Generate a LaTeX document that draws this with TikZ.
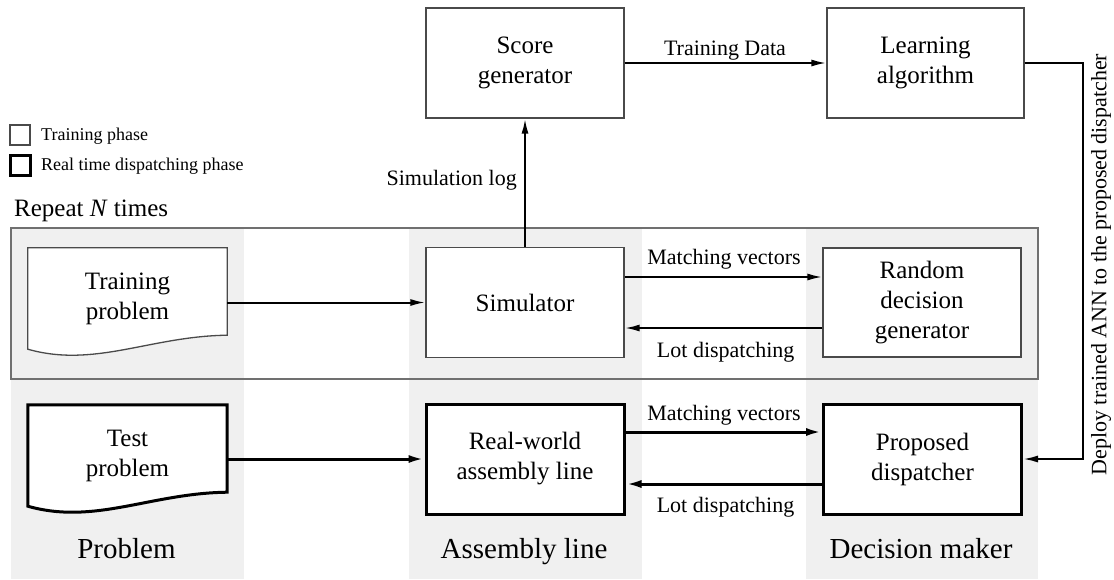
\documentclass[tikz,border=0pt]{standalone}
\usepackage{fontspec}
\setmainfont{Liberation Serif}
\usetikzlibrary{arrows.meta,calc}

\definecolor{colgray}{HTML}{F0F0F0}
\definecolor{framegray}{HTML}{707070}
\definecolor{boxline}{HTML}{4A4A4A}

\newcommand\dgBoxFont{\fontsize{25}{30}\selectfont}
\newcommand\dgLabelFont{\fontsize{22}{26}\selectfont}
\newcommand\dgColFont{\fontsize{29}{34}\selectfont}
\newcommand\dgLegendFont{\fontsize{18}{22}\selectfont}

% document-shaped outline with a wavy bottom edge
\newcommand\dgDocShape[2]{%
  \draw[#2] (#1.north west) -- (#1.north east) -- ($(#1.south east)+(0,-14)$)
    .. controls ($(#1.south east)+(-77,-13)$) and ($(#1.south west)+(67,19)$)
    .. (#1.south west) -- cycle;}

\begin{document}
\begin{tikzpicture}[x=1pt,y=-1pt,
  thinline/.style={draw=boxline, line width=1.3pt},
  thickline/.style={draw=black, line width=3pt},
  boxbase/.style={fill=white, minimum width=198pt, minimum height=110pt,
    align=center, font=\dgBoxFont, inner sep=2pt},
  thinbox/.style={boxbase, thinline},
  thickbox/.style={boxbase, thickline},
  docarea/.style={minimum width=199pt, minimum height=101pt, inner sep=0pt,
    align=center, font=\dgBoxFont},
  thinarrow/.style={line width=2pt, -{Latex[length=15pt,width=7pt]}},
  thickarrow/.style={line width=3pt, -{Latex[length=16pt,width=8pt]}},
  arrowlabel/.style={font=\dgLabelFont, inner sep=0pt},
  collabel/.style={font=\dgColFont, inner sep=0pt, anchor=base},
  legendtext/.style={font=\dgLegendFont, inner sep=0pt, anchor=base west},
]
\useasboundingbox (0,0) rectangle (1114,579);

% column backgrounds
\fill[colgray] (11,228) rectangle (244,579);
\fill[colgray] (409,228) rectangle (642,579);
\fill[colgray] (806,228) rectangle (1038,579);

% repeated training loop frame
\draw[framegray, line width=1.5pt] (11,228) rectangle (1038,379);
\node[font=\dgBoxFont, inner sep=0pt, anchor=base west] (repeat) at (14,216.7)
  {Repeat \textit{N} times};

% legend
\draw[thinline] (10,125) rectangle (30,145);
\draw[thickline] (10.5,155.5) rectangle (30.5,175);
\node[legendtext] (leg-train) at (41,140.7) {Training phase};
\node[legendtext] (leg-real) at (41,170.7) {Real time dispatching phase};

% training phase
\node[docarea] (train) at (127.5,298.5) {};
\dgDocShape{train}{thinline, fill=white}
\node[docarea] (train-txt) at (train.center) {Training\\problem};

\node[thinbox] (sim) at (525,302.5) {Simulator};
\node[thinbox, minimum height=109pt] (rand) at (922,302.5) {Random\\decision\\generator};
\node[thinbox] (score) at (525,63) {Score\\generator};
\node[thinbox, minimum width=197pt] (learn) at (925.5,63) {Learning\\algorithm};

% real time dispatching phase
\node[docarea] (test) at (127.5,455.5) {};
\dgDocShape{test}{thickline, fill=white}
\node[docarea] (test-txt) at (test.center) {Test\\problem};

\node[thickbox] (real) at (525,459) {Real-world\\assembly line};
\node[thickbox] (prop) at (922.5,459) {Proposed\\dispatcher};

% column labels
\node[collabel] (col-prob) at (126.5,558.3) {Problem};
\node[collabel] (col-line) at (524,558.3) {Assembly line};
\node[collabel] (col-dec) at (921,558.3) {Decision maker};

% training connectors
\draw[thinarrow] (train.east |- sim.west) -- (sim.west);
\draw[thinarrow] ($(sim.east)+(0,-25.5)$) -- ($(rand.west)+(0,-25.5)$);
\draw[thinarrow] ($(rand.west)+(0,25.5)$) -- ($(sim.east)+(0,25.5)$);
\draw[thinarrow] (sim.north) -- (score.south);
\draw[thinarrow] (score.east) -- (learn.west);

\node[arrowlabel, anchor=base] (lbl-mv1) at (724,264.3) {Matching vectors};
\node[arrowlabel, anchor=base] (lbl-ld1) at (725.7,357.3) {Lot dispatching};
\node[arrowlabel, anchor=base east] (lbl-log) at (517,185) {Simulation log};
\node[arrowlabel, anchor=base] (lbl-data) at (725,55) {Training Data};

% deployment of the trained network
\coordinate (bend) at (1082.5,63);
\draw[thinarrow] (learn.east) -- (bend) |- (prop.east);
\node[arrowlabel, rotate=90] (lbl-deploy) at (1101,264.5)
  {Deploy trained ANN to the proposed dispatcher};

% real time connectors
\draw[thickarrow] (test.east |- real.west) -- (real.west);
\draw[thickarrow] ($(real.east)+(0,-27)$) -- ($(prop.west)+(0,-27)$);
\draw[thickarrow] ($(prop.west)+(0,25)$) -- ($(real.east)+(0,25)$);

\node[arrowlabel, anchor=base] (lbl-mv2) at (724,420.7) {Matching vectors};
\node[arrowlabel, anchor=base] (lbl-ld2) at (725.5,512.7) {Lot dispatching};
\end{tikzpicture}
\end{document}
